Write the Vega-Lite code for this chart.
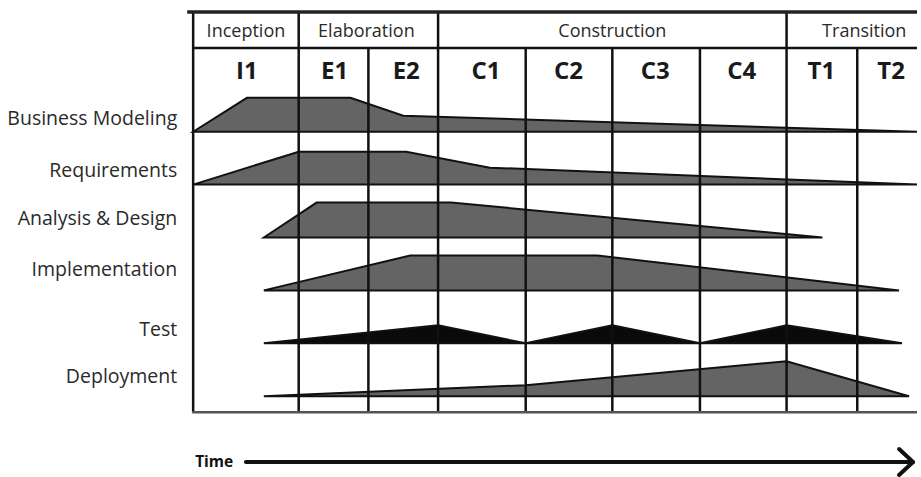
{
  "$schema": "https://vega.github.io/schema/vega-lite/v6.json",
  "width": 921,
  "height": 477,
  "autosize": {"type": "fit", "contains": "padding"},
  "padding": 0,
  "background": "white",
  "config": {"view": {"stroke": null}},
  "datasets": {
    "disciplines": [
      {"disc": "Business Modeling", "t": 194, "top": 132, "base": 132},
      {"disc": "Business Modeling", "t": 248, "top": 98, "base": 132},
      {"disc": "Business Modeling", "t": 352, "top": 98, "base": 132},
      {"disc": "Business Modeling", "t": 405, "top": 116, "base": 132},
      {"disc": "Business Modeling", "t": 921, "top": 132, "base": 132},
      {"disc": "Requirements", "t": 194, "top": 185, "base": 185},
      {"disc": "Requirements", "t": 300, "top": 152, "base": 185},
      {"disc": "Requirements", "t": 408, "top": 152, "base": 185},
      {"disc": "Requirements", "t": 492, "top": 168, "base": 185},
      {"disc": "Requirements", "t": 921, "top": 185, "base": 185},
      {"disc": "Analysis & Design", "t": 265, "top": 238, "base": 238},
      {"disc": "Analysis & Design", "t": 318, "top": 203, "base": 238},
      {"disc": "Analysis & Design", "t": 453, "top": 203, "base": 238},
      {"disc": "Analysis & Design", "t": 826, "top": 238, "base": 238},
      {"disc": "Implementation", "t": 265, "top": 291, "base": 291},
      {"disc": "Implementation", "t": 412, "top": 256, "base": 291},
      {"disc": "Implementation", "t": 600, "top": 256, "base": 291},
      {"disc": "Implementation", "t": 903, "top": 291, "base": 291},
      {"disc": "Test", "t": 265, "top": 344, "base": 344},
      {"disc": "Test", "t": 440, "top": 326, "base": 344},
      {"disc": "Test", "t": 528, "top": 344, "base": 344},
      {"disc": "Test", "t": 615, "top": 326, "base": 344},
      {"disc": "Test", "t": 703, "top": 344, "base": 344},
      {"disc": "Test", "t": 790, "top": 326, "base": 344},
      {"disc": "Test", "t": 906, "top": 344, "base": 344},
      {"disc": "Deployment", "t": 265, "top": 397, "base": 397},
      {"disc": "Deployment", "t": 528, "top": 386, "base": 397},
      {"disc": "Deployment", "t": 790, "top": 362, "base": 397},
      {"disc": "Deployment", "t": 913, "top": 397, "base": 397}
    ],
    "rowLabels": [
      {"label": "Business Modeling", "t": 178, "pos": 125},
      {"label": "Requirements", "t": 178, "pos": 177},
      {"label": "Analysis & Design", "t": 178, "pos": 225},
      {"label": "Implementation", "t": 178, "pos": 277},
      {"label": "Test", "t": 178, "pos": 337},
      {"label": "Deployment", "t": 178, "pos": 384}
    ],
    "phases": [
      {"label": "Inception", "t": 247, "pos": 37},
      {"label": "Elaboration", "t": 368, "pos": 37},
      {"label": "Construction", "t": 615, "pos": 37},
      {"label": "Transition", "t": 868, "pos": 37}
    ],
    "iterations": [
      {"label": "I1", "t": 248, "pos": 79},
      {"label": "E1", "t": 336, "pos": 79},
      {"label": "E2", "t": 408, "pos": 79},
      {"label": "C1", "t": 488, "pos": 79},
      {"label": "C2", "t": 571, "pos": 79},
      {"label": "C3", "t": 658, "pos": 79},
      {"label": "C4", "t": 745, "pos": 79},
      {"label": "T1", "t": 825, "pos": 79},
      {"label": "T2", "t": 895, "pos": 79}
    ],
    "verticals": [
      {"t": 194, "from": 13, "to": 413},
      {"t": 300, "from": 13, "to": 413},
      {"t": 370, "from": 48, "to": 413},
      {"t": 440, "from": 13, "to": 413},
      {"t": 528, "from": 48, "to": 413},
      {"t": 615, "from": 48, "to": 413},
      {"t": 703, "from": 48, "to": 413},
      {"t": 790, "from": 13, "to": 413},
      {"t": 861, "from": 48, "to": 413}
    ]
  },
  "layer": [
    {
      "data": {"name": "disciplines"},
      "mark": {"type": "area", "stroke": "#111111", "strokeWidth": 2, "strokeJoin": "miter", "orient": "vertical"},
      "encoding": {
        "x": {"field": "t", "type": "quantitative", "scale": {"domain": [0, 921], "nice": false, "zero": false}, "axis": null},
        "y": {"field": "top", "type": "quantitative", "stack": null, "scale": {"domain": [0, 477], "nice": false, "zero": false, "reverse": true}, "axis": null},
        "y2": {"field": "base"},
        "fill": {"field": "disc", "type": "nominal", "legend": null,
          "scale": {"domain": ["Business Modeling", "Requirements", "Analysis & Design", "Implementation", "Test", "Deployment"],
                    "range": ["#646464", "#646464", "#646464", "#646464", "#0a0a0a", "#646464"]}}
      }
    },
    {
      "data": {"name": "verticals"},
      "mark": {"type": "rule", "color": "#111111", "strokeWidth": 2.5},
      "encoding": {
        "x": {"field": "t", "type": "quantitative", "scale": {"domain": [0, 921], "nice": false, "zero": false}, "axis": null},
        "y": {"field": "from", "type": "quantitative", "scale": {"domain": [0, 477], "nice": false, "zero": false, "reverse": true}, "axis": null},
        "y2": {"field": "to"}
      }
    },
    {
      "data": {"values": [{"from": 188, "to": 921, "pos": 12}]},
      "mark": {"type": "rule", "color": "#222222", "strokeWidth": 3.5},
      "encoding": {
        "x": {"field": "from", "type": "quantitative", "scale": {"domain": [0, 921], "nice": false, "zero": false}, "axis": null},
        "x2": {"field": "to"},
        "y": {"field": "pos", "type": "quantitative", "scale": {"domain": [0, 477], "nice": false, "zero": false, "reverse": true}, "axis": null}
      }
    },
    {
      "data": {"values": [{"from": 194, "to": 921, "pos": 48}]},
      "mark": {"type": "rule", "color": "#111111", "strokeWidth": 2.5},
      "encoding": {
        "x": {"field": "from", "type": "quantitative", "scale": {"domain": [0, 921], "nice": false, "zero": false}, "axis": null},
        "x2": {"field": "to"},
        "y": {"field": "pos", "type": "quantitative", "scale": {"domain": [0, 477], "nice": false, "zero": false, "reverse": true}, "axis": null}
      }
    },
    {
      "data": {"values": [{"from": 193, "to": 921, "pos": 413}]},
      "mark": {"type": "rule", "color": "#555555", "strokeWidth": 2.5},
      "encoding": {
        "x": {"field": "from", "type": "quantitative", "scale": {"domain": [0, 921], "nice": false, "zero": false}, "axis": null},
        "x2": {"field": "to"},
        "y": {"field": "pos", "type": "quantitative", "scale": {"domain": [0, 477], "nice": false, "zero": false, "reverse": true}, "axis": null}
      }
    },
    {
      "data": {"name": "rowLabels"},
      "mark": {"type": "text", "align": "right", "baseline": "alphabetic", "font": "Open Sans", "fontSize": 19.5, "color": "#2a2a2a"},
      "encoding": {
        "x": {"field": "t", "type": "quantitative", "scale": {"domain": [0, 921], "nice": false, "zero": false}, "axis": null},
        "y": {"field": "pos", "type": "quantitative", "scale": {"domain": [0, 477], "nice": false, "zero": false, "reverse": true}, "axis": null},
        "text": {"field": "label"}
      }
    },
    {
      "data": {"name": "phases"},
      "mark": {"type": "text", "align": "center", "baseline": "alphabetic", "font": "Open Sans", "fontSize": 18, "color": "#2a2a2a"},
      "encoding": {
        "x": {"field": "t", "type": "quantitative", "scale": {"domain": [0, 921], "nice": false, "zero": false}, "axis": null},
        "y": {"field": "pos", "type": "quantitative", "scale": {"domain": [0, 477], "nice": false, "zero": false, "reverse": true}, "axis": null},
        "text": {"field": "label"}
      }
    },
    {
      "data": {"name": "iterations"},
      "mark": {"type": "text", "align": "center", "baseline": "alphabetic", "font": "Open Sans", "fontSize": 24, "fontWeight": "bold", "color": "#1a1a1a"},
      "encoding": {
        "x": {"field": "t", "type": "quantitative", "scale": {"domain": [0, 921], "nice": false, "zero": false}, "axis": null},
        "y": {"field": "pos", "type": "quantitative", "scale": {"domain": [0, 477], "nice": false, "zero": false, "reverse": true}, "axis": null},
        "text": {"field": "label"}
      }
    },
    {
      "data": {"values": [{"label": "Time", "t": 196, "pos": 468}]},
      "mark": {"type": "text", "align": "left", "baseline": "alphabetic", "font": "Open Sans", "fontSize": 15.5, "fontWeight": "bold", "color": "#111111"},
      "encoding": {
        "x": {"field": "t", "type": "quantitative", "scale": {"domain": [0, 921], "nice": false, "zero": false}, "axis": null},
        "y": {"field": "pos", "type": "quantitative", "scale": {"domain": [0, 477], "nice": false, "zero": false, "reverse": true}, "axis": null},
        "text": {"field": "label"}
      }
    },
    {
      "data": {"values": [
        {"x1": 247, "y1": 463, "x2": 914, "y2": 463},
        {"x1": 903, "y1": 450, "x2": 917, "y2": 463},
        {"x1": 903, "y1": 476, "x2": 917, "y2": 463}
      ]},
      "mark": {"type": "rule", "color": "#111111", "strokeWidth": 4, "strokeCap": "round"},
      "encoding": {
        "x": {"field": "x1", "type": "quantitative", "scale": {"domain": [0, 921], "nice": false, "zero": false}, "axis": null},
        "x2": {"field": "x2"},
        "y": {"field": "y1", "type": "quantitative", "scale": {"domain": [0, 477], "nice": false, "zero": false, "reverse": true}, "axis": null},
        "y2": {"field": "y2"}
      }
    }
  ]
}
